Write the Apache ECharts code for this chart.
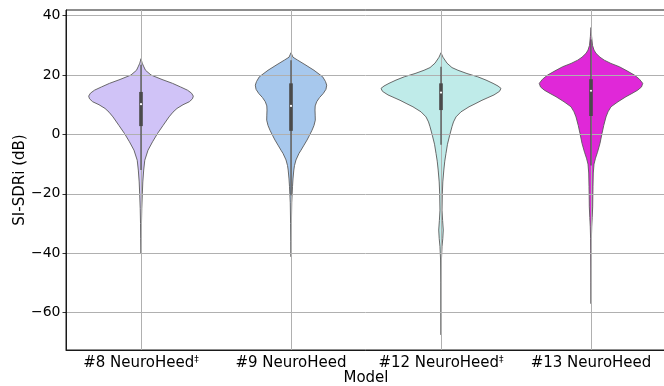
<!DOCTYPE html>
<html>
<head>
<meta charset="utf-8">
<script src="https://cdn.jsdelivr.net/npm/echarts@6/dist/echarts.min.js"></script>
<style>
  html, body { margin: 0; padding: 0; background: #fff; }
  #chart { width: 664px; height: 386px; }
</style>
</head>
<body>
<div id="chart"></div>
<script>
// ---------------- data ----------------
const categories = ['#8 NeuroHeed‡', '#9 NeuroHeed', '#12 NeuroHeed‡', '#13 NeuroHeed'];
const yTicks = [-60, -40, -20, 0, 20, 40];

// violin density profiles: SI-SDRi value (dB) and half-width relative to the widest violin
const v8Y = [25.5, 24, 23, 21.6, 20, 18.5, 17.2, 16, 14.9, 13.9, 12.9, 12, 11, 10, 8.75, 7.5, 5.9, 3, 0.3, -2.5, -5.3, -8.7, -12, -16, -20, -25, -30, -35, -40];
const v8W = [0, 0.02, 0.042, 0.075, 0.167, 0.35, 0.525, 0.658, 0.775, 0.842, 0.872, 0.858, 0.805, 0.70, 0.60, 0.533, 0.467, 0.367, 0.275, 0.192, 0.117, 0.063, 0.045, 0.03, 0.022, 0.013, 0.008, 0.005, 0];

const v9Y = [27.5, 26, 25, 23.3, 21.6, 19.4, 17.8, 16.6, 15.2, 13.8, 12.4, 11, 9.6, 8.2, 6.5, 4.8, 3, 1.4, -0.3, -1.9, -3.6, -5.3, -6.4, -8.6, -10.5, -12, -15, -17.6, -23, -30, -36, -41.2];
const v9W = [0, 0.033, 0.112, 0.25, 0.383, 0.528, 0.575, 0.595, 0.583, 0.538, 0.475, 0.428, 0.403, 0.40, 0.403, 0.405, 0.383, 0.35, 0.308, 0.267, 0.217, 0.167, 0.133, 0.083, 0.058, 0.047, 0.033, 0.025, 0.012, 0.007, 0.003, 0];

const v12Y = [27.5, 26, 24, 22.5, 21.6, 20.5, 19.4, 18.3, 17.2, 16.3, 15.5, 14.5, 13.3, 12.4, 11.5, 10.3, 9.3, 7.6, 5.9, 4.2, 2.6, -0.5, -3.3, -6.4, -9, -12, -16, -20, -25.5, -29, -32.2, -35, -37.8, -42.3, -50, -60, -67.5];
const v12W = [0, 0.033, 0.10, 0.183, 0.283, 0.433, 0.612, 0.75, 0.867, 0.95, 1.0, 0.975, 0.883, 0.783, 0.683, 0.567, 0.467, 0.333, 0.25, 0.208, 0.183, 0.142, 0.108, 0.083, 0.063, 0.047, 0.03, 0.022, 0.017, 0.027, 0.038, 0.03, 0.017, 0.007, 0.0025, 0.0017, 0];

const v13Y = [36, 33, 30, 28.4, 27.3, 26, 25, 23.9, 22.8, 21.4, 20, 18.6, 17.2, 16, 14.9, 13.8, 12.7, 11, 9.3, 7.6, 5.9, 3, 0.3, -3, -6, -8, -10, -13, -17.6, -21, -24.4, -28, -31.1, -35, -39, -45, -50, -57];
const v13W = [0, 0.01, 0.025, 0.05, 0.083, 0.15, 0.222, 0.333, 0.472, 0.60, 0.722, 0.808, 0.862, 0.842, 0.778, 0.683, 0.583, 0.45, 0.333, 0.283, 0.25, 0.212, 0.183, 0.15, 0.108, 0.075, 0.05, 0.038, 0.033, 0.03, 0.028, 0.02, 0.012, 0.007, 0.005, 0.0025, 0.0017, 0];

// inner box statistics per model
const q1 = [2.8, 1.2, 8.2, 6.2];
const median = [10.2, 9.6, 14.1, 14.7];
const q3 = [14.3, 17.2, 17.2, 18.6];
const whiskerLow = [-12, -20.5, -3.5, -10.5];
const whiskerHigh = [23.5, 25, 22.8, 32];

const violinColors = ['#d0c3f7', '#a7c8ed', '#bfebe9', '#e028d8'];

// ---------------- chart ----------------
const profilesY = [v8Y, v9Y, v12Y, v13Y];
const profilesW = [v8W, v9W, v12W, v13W];
const font = 'DejaVu Sans';
const catData = categories.map((c, i) => [i]);

function violinItem(params, api) {
  const i = api.value(0);
  const ys = profilesY[i], ws = profilesW[i];
  const maxHalf = api.size([1, 0])[0] * 0.4;
  const right = [], left = [];
  for (let k = 0; k < ys.length; k++) {
    const c = api.coord([i, ys[k]]);
    const hw = ws[k] * maxHalf;
    right.push([c[0] + hw, c[1]]);
    left.unshift([c[0] - hw, c[1]]);
  }
  return {
    type: 'polygon',
    shape: { points: right.concat(left) },
    style: { fill: violinColors[i], stroke: '#5a5a5a', lineWidth: 0.9 }
  };
}

function vGridItem(params, api) {
  const i = api.value(0);
  const cs = params.coordSys;
  const x = Math.round(api.coord([i, 0])[0]) + 0.5;
  return {
    type: 'line',
    shape: { x1: x, y1: cs.y, x2: x, y2: cs.y + cs.height },
    style: { stroke: '#b0b0b0', lineWidth: 1 }
  };
}

function boxItem(params, api) {
  const i = api.value(0);
  const lo = api.coord([i, whiskerLow[i]]);
  const hi = api.coord([i, whiskerHigh[i]]);
  const b1 = api.coord([i, q1[i]]);
  const b3 = api.coord([i, q3[i]]);
  const md = api.coord([i, median[i]]);
  const bw = 3.6;
  return {
    type: 'group',
    children: [
      { type: 'line', shape: { x1: lo[0], y1: lo[1], x2: hi[0], y2: hi[1] },
        style: { stroke: '#4a4a4a', lineWidth: 1.2 } },
      { type: 'rect', shape: { x: b3[0] - bw / 2, y: b3[1], width: bw, height: b1[1] - b3[1] },
        style: { fill: '#4a4a4a' } },
      { type: 'circle', shape: { cx: md[0], cy: md[1], r: 1.1 },
        style: { fill: '#ffffff' } }
    ]
  };
}

const chart = echarts.init(document.getElementById('chart'), null, { renderer: 'canvas' });
chart.setOption({
  animation: false,
  backgroundColor: '#ffffff',
  grid: {
    left: 66, top: 10, width: 600, height: 340,
    show: true, borderColor: '#1a1a1a', borderWidth: 1, backgroundColor: 'transparent',
    containLabel: false, outerBoundsMode: 'none'
  },
  xAxis: {
    type: 'category',
    data: categories,
    boundaryGap: true,
    name: 'Model',
    nameLocation: 'middle',
    nameGap: 21,
    nameMoveOverlap: false,
    nameTextStyle: { fontFamily: font, fontSize: 15, color: '#000' },
    axisLine: { onZero: false, lineStyle: { color: '#1a1a1a', width: 1 } },
    axisTick: { alignWithLabel: true, length: 3.5, lineStyle: { color: '#000', width: 0.8 } },
    axisLabel: {
      interval: 0, hideOverlap: false,
      margin: 5,
      fontFamily: font, fontSize: 15, color: '#000', lineHeight: 17,
      formatter: v => v.replace('‡', '{sup|‡}'),
      rich: { sup: { fontFamily: font, fontSize: 9, color: '#000', verticalAlign: 'top', lineHeight: 17 } }
    },
    splitLine: { show: false }
  },
  yAxis: {
    type: 'value',
    min: -72.6, max: 41.9,
    splitNumber: 5,
    z: 3,
    name: 'SI-SDRi (dB)',
    nameLocation: 'middle',
    nameGap: 38,
    nameMoveOverlap: false,
    nameTextStyle: { fontFamily: font, fontSize: 15, color: '#000' },
    axisLine: { show: true, lineStyle: { color: '#1a1a1a', width: 1 } },
    axisTick: { show: true, length: 3.5, customValues: yTicks, lineStyle: { color: '#000', width: 0.8 } },
    axisLabel: {
      margin: 5.5, customValues: yTicks,
      fontFamily: font, fontSize: 14, color: '#000',
      formatter: v => (Math.abs(v % 20) > 1e-6) ? '' : (v < 0 ? '\u2212' + Math.abs(v) : String(v))
    },
    splitLine: { show: true, lineStyle: { color: '#b0b0b0', width: 1 } }
  },
  series: [
    { type: 'custom', name: 'violins', data: catData, encode: { x: 0 }, z: 2, silent: true, renderItem: violinItem },
    { type: 'custom', name: 'xgrid', data: catData, encode: { x: 0 }, z: 3, silent: true, renderItem: vGridItem },
    { type: 'custom', name: 'box', data: catData, encode: { x: 0 }, z: 4, silent: true, renderItem: boxItem }
  ]
});
</script>
</body>
</html>
